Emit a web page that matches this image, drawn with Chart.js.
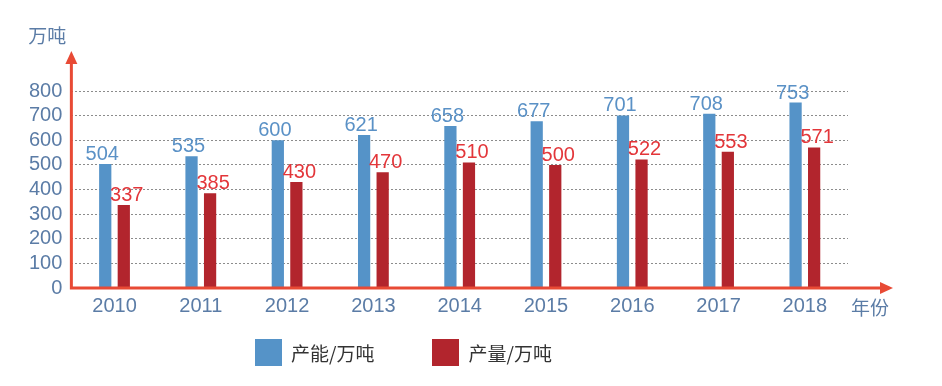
<!DOCTYPE html>
<html>
<head>
<meta charset="utf-8">
<script src="https://cdn.jsdelivr.net/npm/chart.js@4.4.1/dist/chart.umd.min.js"></script>
<style>
  body { margin: 0; background: #fff; }
  #wrap { position: relative; width: 942px; height: 386px; }
  #legend {
    position: absolute; left: 255px; top: 339px;
    display: flex; align-items: center;
    font: 19px "Noto Sans CJK SC", sans-serif; color: #333;
  }
  #legend .item { display: flex; align-items: center; margin-right: 58px; }
  #legend .box { width: 27px; height: 27px; margin-right: 9px; }
</style>
</head>
<body>
<div id="wrap">
  <canvas id="chart" width="942" height="386"></canvas>
  <div id="legend"></div>
</div>
<script>
const years = ['2010', '2011', '2012', '2013', '2014', '2015', '2016', '2017', '2018'];
const capacity = [504, 535, 600, 621, 658, 677, 701, 708, 753];
const production = [337, 385, 430, 470, 510, 500, 522, 553, 571];
const seriesNames = ['产能/万吨', '产量/万吨'];
const yMax = 800;
const yStep = 100;
const yTitle = '万吨';
const xTitle = '年份';

const barColors = ['#5593c8', '#b2252d'];
const labelColors = ['#5a91c6', '#e3363a'];
const axisColor = '#e84a35';
const tickColor = '#5b7ca6';
const numFont = '20px "Liberation Sans", Arial, sans-serif';
const cjkFont = '19px "Noto Sans CJK SC", sans-serif';

// value labels over each bar
const valueLabels = {
    id: 'valueLabels',
    afterDatasetsDraw(chart) {
        const { ctx } = chart;
        ctx.save();
        ctx.font = numFont;
        ctx.textAlign = 'center';
        ctx.textBaseline = 'alphabetic';
        chart.data.datasets.forEach((ds, i) => {
            const dx = i === 0 ? -3 : 3;
            ctx.fillStyle = labelColors[i];
            chart.getDatasetMeta(i).data.forEach((bar, j) => {
                ctx.fillText(String(ds.data[j]), bar.x + dx, bar.y - 4);
            });
        });
        ctx.restore();
    }
};

// red axes with arrow heads + axis titles
const axisArrows = {
    id: 'axisArrows',
    afterDatasetsDraw(chart) {
        const { ctx, chartArea: { left, right, top, bottom } } = chart;
        ctx.save();
        ctx.strokeStyle = axisColor;
        ctx.fillStyle = axisColor;
        ctx.lineWidth = 3;

        ctx.beginPath();
        ctx.moveTo(left, bottom + 1.5);
        ctx.lineTo(left, top - 28);
        ctx.moveTo(left - 1.5, bottom);
        ctx.lineTo(right + 34, bottom);
        ctx.stroke();

        ctx.beginPath();
        ctx.moveTo(left, top - 40);
        ctx.lineTo(left - 6, top - 27);
        ctx.lineTo(left + 6, top - 27);
        ctx.closePath();
        ctx.fill();

        ctx.beginPath();
        ctx.moveTo(right + 45, bottom);
        ctx.lineTo(right + 32, bottom - 6);
        ctx.lineTo(right + 32, bottom + 6);
        ctx.closePath();
        ctx.fill();

        ctx.fillStyle = tickColor;
        ctx.font = cjkFont;
        ctx.textAlign = 'center';
        ctx.textBaseline = 'middle';
        ctx.fillText(yTitle, left - 24, top - 55);
        ctx.fillText(xTitle, right + 22, bottom + 20);
        ctx.restore();
    }
};

const datasets = [capacity, production].map((data, i) => ({
    label: seriesNames[i],
    data,
    backgroundColor: barColors[i],
    borderWidth: 0,
    categoryPercentage: 0.43,
    barPercentage: 0.66,
}));

new Chart('chart', {
    type: 'bar',
    data: { labels: years, datasets },
    options: {
        responsive: false,
        animation: false,
        layout: { padding: { left: 20, right: 94, top: 91, bottom: 62 } },
        plugins: {
            legend: { display: false },
            tooltip: { enabled: false },
        },
        scales: {
            x: {
                grid: { display: false, drawTicks: false },
                border: { display: false },
                ticks: {
                    padding: 6,
                    color: tickColor,
                    font: { family: '"Liberation Sans", Arial, sans-serif', size: 20 },
                },
            },
            y: {
                min: 0,
                max: yMax,
                grid: { color: '#8c8c8c', lineWidth: 1, drawTicks: false },
                border: { display: false, dash: [2, 2] },
                ticks: {
                    stepSize: yStep,
                    autoSkip: false,
                    padding: 9,
                    color: tickColor,
                    font: { family: '"Liberation Sans", Arial, sans-serif', size: 20 },
                },
            },
        },
    },
    plugins: [valueLabels, axisArrows],
});

// legend below the plot
const legendEl = document.getElementById('legend');
seriesNames.forEach((name, i) => {
    const item = document.createElement('div');
    item.className = 'item';
    const box = document.createElement('span');
    box.className = 'box';
    box.style.background = barColors[i];
    const text = document.createElement('span');
    text.textContent = name;
    item.appendChild(box);
    item.appendChild(text);
    legendEl.appendChild(item);
});
</script>
</body>
</html>
